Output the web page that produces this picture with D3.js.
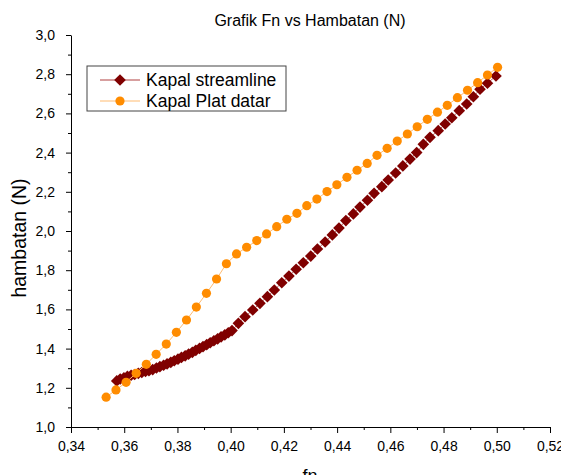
<!DOCTYPE html>
<html>
<head>
<meta charset="utf-8">
<script src="https://cdn.jsdelivr.net/npm/d3@7"></script>
<style>
  body { margin: 0; background: #fff; }
  svg { display: block; font-family: "Liberation Sans", Arial, sans-serif; }
</style>
</head>
<body>
<div id="app"></div>
<script>
// data
const streamline_fn = [
  0.3572, 0.3585, 0.3599, 0.3612, 0.3626, 0.3639, 0.3653, 0.3666, 0.3680, 0.3693,
  0.3707, 0.3721, 0.3734, 0.3748, 0.3761, 0.3775, 0.3788, 0.3802, 0.3815, 0.3829,
  0.3842, 0.3856, 0.3869, 0.3883, 0.3896, 0.3910, 0.3923, 0.3937, 0.3951, 0.3964,
  0.3978, 0.3991, 0.4005,
  0.4029, 0.4054, 0.4083, 0.4110, 0.4138, 0.4164, 0.4192, 0.4219, 0.4246, 0.4273,
  0.4301, 0.4326, 0.4355, 0.4382, 0.4407, 0.4433, 0.4461, 0.4486, 0.4514, 0.4539,
  0.4568, 0.4592, 0.4620, 0.4647, 0.4674, 0.4699, 0.4724, 0.4749, 0.4780, 0.4806,
  0.4831, 0.4859, 0.4887, 0.4912, 0.4937, 0.4965, 0.4997
]
const streamline_hambatan = [
  1.235, 1.245, 1.251, 1.258, 1.264, 1.268, 1.274, 1.278, 1.283, 1.287,
  1.293, 1.301, 1.308, 1.315, 1.322, 1.330, 1.338, 1.346, 1.355, 1.363,
  1.372, 1.381, 1.391, 1.401, 1.410, 1.420, 1.430, 1.440, 1.450, 1.460,
  1.470, 1.481, 1.492,
  1.529, 1.563, 1.597, 1.631, 1.665, 1.699, 1.736, 1.770, 1.805, 1.838,
  1.872, 1.908, 1.944, 1.980, 2.015, 2.053, 2.087, 2.122, 2.157, 2.192,
  2.226, 2.260, 2.296, 2.332, 2.367, 2.400, 2.442, 2.478, 2.512, 2.546,
  2.578, 2.614, 2.648, 2.685, 2.723, 2.754, 2.791
]
const plat_fn = [
  0.3532, 0.3569, 0.3607, 0.3645, 0.3683, 0.3720, 0.3758, 0.3796, 0.3834, 0.3871,
  0.3909, 0.3947, 0.3984, 0.4022, 0.4060, 0.4098, 0.4135, 0.4173, 0.4211, 0.4249,
  0.4286, 0.4324, 0.4362, 0.4399, 0.4437, 0.4475, 0.4513, 0.4550, 0.4588, 0.4626,
  0.4664, 0.4701, 0.4739, 0.4777, 0.4814, 0.4852, 0.4890, 0.4928, 0.4965, 0.5003
]
const plat_hambatan = [
  1.152, 1.189, 1.228, 1.274, 1.320, 1.371, 1.423, 1.483, 1.546, 1.612,
  1.682, 1.755, 1.833, 1.883, 1.917, 1.951, 1.985, 2.022, 2.060, 2.090,
  2.129, 2.163, 2.201, 2.236, 2.274, 2.310, 2.345, 2.386, 2.422, 2.459,
  2.495, 2.532, 2.570, 2.606, 2.641, 2.680, 2.718, 2.757, 2.796, 2.835
]

const x_ticks = [0.34, 0.36, 0.38, 0.40, 0.42, 0.44, 0.46, 0.48, 0.50, 0.52]
const x_tick_labels = ['0,34', '0,36', '0,38', '0,40', '0,42', '0,44', '0,46', '0,48', '0,50', '0,52']
const y_ticks = [1.0, 1.2, 1.4, 1.6, 1.8, 2.0, 2.2, 2.4, 2.6, 2.8, 3.0]
const y_tick_labels = ['1,0', '1,2', '1,4', '1,6', '1,8', '2,0', '2,2', '2,4', '2,6', '2,8', '3,0']

const series_names = ['Kapal streamline', 'Kapal Plat datar']

const width = 561
const height = 475

const dark_red = '#800000'
const orange = '#ff8c00'

const app = d3.select('#app')

const svg = d3.create('svg')
  .attr('width', width)
  .attr('height', height)

// scales
const x_scale = d3.scaleLinear().domain([0.34, 0.52]).range([71, 550])
const y_scale = d3.scaleLinear().domain([1.0, 3.0]).range([427, 35])

// minor ticks halfway between majors
const x_minor = d3.range(0.35, 0.52, 0.02)
const y_minor = d3.range(1.1, 3.0, 0.2)

// x axis
svg.append('g')
  .attr('transform', `translate(0,${y_scale(1.0)})`)
  .call(d3.axisBottom(x_scale).tickValues(x_minor).tickSize(3).tickFormat(''))
  .call((g) => g.select('.domain').remove())

svg.append('g')
  .attr('transform', `translate(0,${y_scale(1.0)})`)
  .call(d3.axisBottom(x_scale)
    .tickValues(x_ticks)
    .tickFormat((d, i) => x_tick_labels[i])
    .tickSize(6)
    .tickSizeOuter(0)
    .tickPadding(8))
  .call((g) => g.selectAll('text').attr('font-size', 14).attr('fill', '#000'))

// y axis
svg.append('g')
  .attr('transform', `translate(${x_scale(0.34)},0)`)
  .call(d3.axisLeft(y_scale).tickValues(y_minor).tickSize(3).tickFormat(''))
  .call((g) => g.select('.domain').remove())

svg.append('g')
  .attr('transform', `translate(${x_scale(0.34)},0)`)
  .call(d3.axisLeft(y_scale)
    .tickValues(y_ticks)
    .tickFormat((d, i) => y_tick_labels[i])
    .tickSize(5)
    .tickSizeOuter(0)
    .tickPadding(11))
  .call((g) => g.selectAll('text').attr('font-size', 14).attr('fill', '#000'))

svg.selectAll('.domain, .tick line').attr('stroke', '#000')

// series
const streamline = streamline_fn.map((d, i) => [d, streamline_hambatan[i]])
const plat = plat_fn.map((d, i) => [d, plat_hambatan[i]])

const line = d3.line()
  .x((d) => x_scale(d[0]))
  .y((d) => y_scale(d[1]))

const diamond = d3.symbol(d3.symbolSquare, 68)

// streamline: line + diamonds
svg.append('path')
  .datum(streamline)
  .attr('d', line)
  .attr('fill', 'none')
  .attr('stroke', '#b04040')
  .attr('stroke-width', 0.8)

svg.append('g')
  .selectAll('path')
  .data(streamline)
  .join('path')
  .attr('d', diamond)
  .attr('transform', (d) => `translate(${x_scale(d[0])},${y_scale(d[1])}) rotate(45)`)
  .attr('fill', dark_red)

// plat datar: line + circles (drawn on top)
svg.append('path')
  .datum(plat)
  .attr('d', line)
  .attr('fill', 'none')
  .attr('stroke', '#ffbb70')
  .attr('stroke-width', 1)

svg.append('g')
  .selectAll('circle')
  .data(plat)
  .join('circle')
  .attr('cx', (d) => x_scale(d[0]))
  .attr('cy', (d) => y_scale(d[1]))
  .attr('r', 4.6)
  .attr('fill', orange)

// title and axis labels
svg.append('text')
  .attr('x', 310)
  .attr('y', 26)
  .attr('text-anchor', 'middle')
  .attr('font-size', 16)
  .text('Grafik Fn vs Hambatan (N)')

svg.append('text')
  .attr('transform', 'translate(26,238) rotate(-90)')
  .attr('text-anchor', 'middle')
  .attr('font-size', 19.5)
  .text('hambatan (N)')

svg.append('text')
  .attr('x', 310)
  .attr('y', 482)
  .attr('text-anchor', 'middle')
  .attr('font-size', 18)
  .text('fn')

// legend
const legend = svg.append('g').attr('transform', 'translate(87,66)')

legend.append('rect')
  .attr('width', 199)
  .attr('height', 45)
  .attr('fill', '#fff')
  .attr('stroke', '#444')
  .attr('stroke-width', 1)

const legend_colors = [dark_red, orange]
const legend_line_colors = ['#b04040', '#ffbb70']

series_names.forEach((name, i) => {
  const cy = 14 + i * 21
  legend.append('line')
    .attr('x1', 13).attr('x2', 53)
    .attr('y1', cy).attr('y2', cy)
    .attr('stroke', legend_line_colors[i])
    .attr('stroke-width', 1)
  if (i === 0) {
    legend.append('path')
      .attr('d', diamond)
      .attr('transform', `translate(33,${cy}) rotate(45)`)
      .attr('fill', legend_colors[i])
  } else {
    legend.append('circle')
      .attr('cx', 33).attr('cy', cy).attr('r', 4.6)
      .attr('fill', legend_colors[i])
  }
  legend.append('text')
    .attr('x', 59)
    .attr('y', cy + 6)
    .attr('font-size', 17.5)
    .text(name)
})

app.append(() => svg.node())
</script>
</body>
</html>
